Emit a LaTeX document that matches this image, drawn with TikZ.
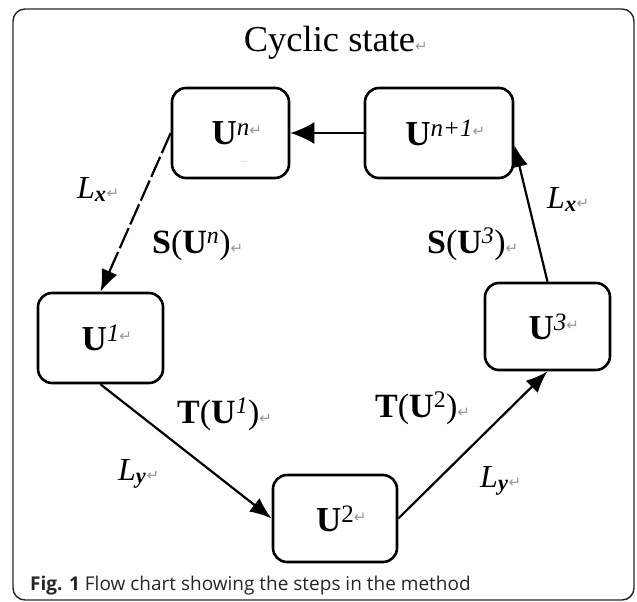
\documentclass[tikz,border=0pt]{standalone}
\usepackage{fontspec}
\setmainfont{Liberation Serif}
\newfontfamily\capfont{Open Sans}
\newfontfamily\symfont{DejaVu Sans}
\usetikzlibrary{arrows.meta,calc}
\newcommand{\pmark}{{\symfont\color{black!40}\fontsize{15}{15}\selectfont ↵}}
\newcommand{\upmark}{\raisebox{9pt}{\pmark}}
\newcommand{\sups}[1]{\raisebox{9pt}{\fontsize{25}{25}\selectfont #1}}
\tikzset{
  statebox/.style={draw, line width=2.6pt, rounded corners=14pt, minimum height=90pt, inner sep=0pt, font=\fontsize{35}{40}\selectfont},
  flow/.style={line width=2.2pt, -{Latex[length=22pt,width=17pt]}},
  dflow/.style={flow, dash pattern=on 22pt off 4pt},
  lbl/.style={anchor=base west, inner sep=0pt, font=\fontsize{34}{40}\selectfont},
  llbl/.style={anchor=base west, inner sep=0pt, font=\fontsize{32}{38}\selectfont},
  frame/.style={draw=black!85, line width=1.4pt, rounded corners=12pt},
}
\begin{document}
\begin{tikzpicture}[x=1pt,y=-1pt]
\useasboundingbox (0,0) rectangle (637,602);
\draw[frame] (13,9) rectangle (634,600);
\node[anchor=base, inner sep=0pt, font=\fontsize{36.5}{40}\selectfont] (title) at (329.5,52) {Cyclic state\rlap{\pmark}};
% boxes
\node[statebox, minimum width=117pt] (n) at (230.5,133) {\textbf{U}\sups{\textit{n}}\rlap{\upmark}};
\node[inner sep=0pt, text=black!40, font=\fontsize{8}{8}\selectfont] (dots) at (244,162) {...};
\node[statebox, minimum width=148pt] (np1) at (439,133) {\textbf{U}\sups{\textit{n+1}}\rlap{\upmark}};
\node[statebox, minimum width=125pt] (u1) at (100.5,338) {\textbf{U}\sups{\textit{1}}\rlap{\upmark}};
\node[statebox, minimum width=125pt, minimum height=87pt] (u3) at (547.5,326.5) {\textbf{U}\sups{\textit{3}}\rlap{\upmark}};
\node[statebox, minimum width=124pt, minimum height=87pt] (u2) at (335,518.5) {\textbf{U}\sups{2}\rlap{\upmark}};
% connectors
\coordinate (np1in) at ($(np1.east)+(0,12)$);
\draw[flow, -{Latex[length=24pt,width=22pt]}] (np1) -- (n);
\draw[dflow] (n.west) -- (u1.north);
\draw[flow] (u1.south) -- (u2.west);
\draw[flow] (u2.east) -- (u3.south);
\draw[flow] (u3.north) -- (np1in);
% labels
\node[llbl] (lx1) at (77,198) {\textit{L}\textsubscript{\textbf{\textit{x}}}\pmark};
\node[llbl] (lx2) at (547,208) {\textit{L}\textsubscript{\textbf{\textit{x}}}\pmark};
\node[lbl] (sn) at (152,253) {\textbf{S}(\textbf{U}\textsuperscript{\textit{n}})\pmark};
\node[lbl] (s3) at (427,253) {\textbf{S}(\textbf{U}\textsuperscript{\textit{3}})\pmark};
\node[lbl] (t1) at (177,423) {\textbf{T}(\textbf{U}\textsuperscript{\textit{1}})\pmark};
\node[lbl] (t2) at (375,417) {\textbf{T}(\textbf{U}\textsuperscript{2})\pmark};
\node[llbl] (ly1) at (118,480) {\textit{L}\textsubscript{\textbf{\textit{y}}}\pmark};
\node[llbl] (ly2) at (480,487) {\textit{L}\textsubscript{\textbf{\textit{y}}}\pmark};
% caption
\node[anchor=base west, inner sep=0pt, text=black!85, font=\capfont\fontsize{19}{21}\selectfont] (cap) at (30,590) {\textbf{Fig. 1} Flow chart showing the steps in the method};
\end{tikzpicture}
\end{document}
